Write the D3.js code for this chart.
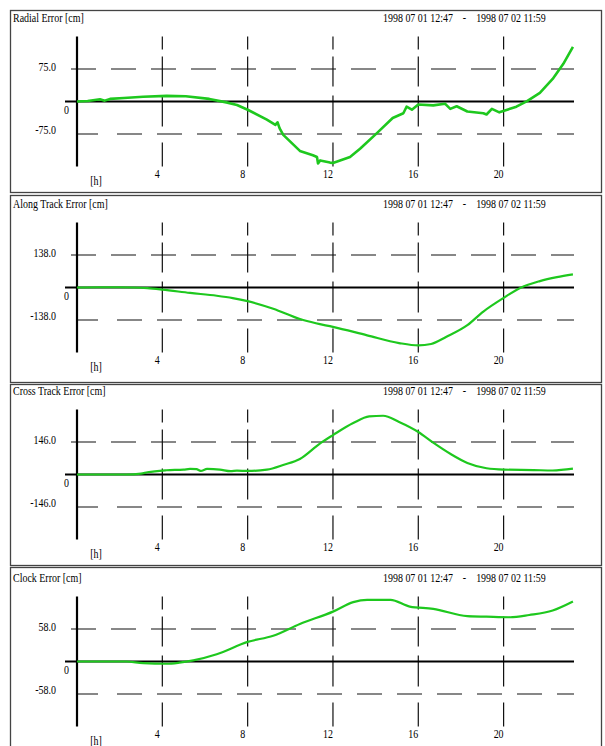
<!DOCTYPE html>
<html><head><meta charset="utf-8">
<script src="https://cdn.jsdelivr.net/npm/d3@7"></script>
<style>body{margin:0;background:#fff}svg{display:block}text{white-space:pre}</style>
</head><body>
<svg id="c" width="605" height="746"></svg>
<script>
// ---------- data ----------
const titles = ["Radial Error [cm]", "Along Track Error [cm]", "Cross Track Error [cm]", "Clock Error [cm]"];
const dateRange = "1998 07 01 12:47    -    1998 07 02 11:59";
const gridValues = [75.0, 138.0, 146.0, 58.0];
const hourTicks = [4, 8, 12, 16, 20];
const xUnit = "[h]";

const radialH = [0,0.5,1.08,1.3,1.55,2.2,3.1,4.2,5.1,6.2,7.0,7.5,8,8.9,9.3,9.4,9.5,9.67,10.45,11.06,11.25,11.3,11.4,11.86,12.0,12.8,13.27,14.06,14.8,15.3,15.45,15.7,16,16.7,17.25,17.5,17.8,18.3,19.05,19.2,19.45,19.8,20.6,21.1,21.7,22.3,22.8,23.25];
const radialV = [0,1,5,2,6,8,11,13,12,6,-2,-8,-19,-42,-54,-48,-62,-77,-114,-124,-128,-143,-136,-141,-142,-128,-109,-73,-38,-27,-12,-19,-7,-9,-5,-17,-11,-23,-27,-30,-17,-25,-12,1,20,52,87,126];

const alongH = [0,1,2,2.6,3.3,4,5.3,6.55,7.3,8,9.2,10.45,11.2,12,13.6,15.1,16,16.6,17.3,18.3,19.05,20,20.8,21.7,22.5,23.25];
const alongV = [0,1,1,0,-3,-9,-23,-35,-45,-58,-90,-134,-152,-167,-203,-236,-246,-240,-210,-160,-102,-44,-1,27,44,56];

const crossH = [0,2.3,3.0,3.3,4.2,5.0,5.3,5.6,5.8,6.1,6.7,7.2,7.5,8,8.9,9.7,10.45,11.4,12,12.95,13.7,14.35,15.1,16,16.7,17.5,18.3,19.2,20,21.4,22.3,23.25];
const crossV = [0,0,4,10,19,22,25,24,16,25,22,15,17,16,22,44,70,140,177,231,261,264,236,191,143,93,52,28,22,20,18,26];

const clockH = [0,2.3,3.1,4.2,4.8,5.45,6.55,8,9.2,10.45,12,12.95,13.6,14.7,15.6,16.7,18.3,19.2,20.3,21.2,22.3,23.25];
const clockV = [0,0,-3,-4,-2,2,13,35,46,67,89,106,110,110,98,94,81,80,79,83,91,107];

const seriesH = [radialH, alongH, crossH, clockH];
const seriesV = [radialV, alongV, crossV, clockV];

// ---------- layout ----------
const svg = d3.select("#c");
const FONT = "'Liberation Serif','Times New Roman',serif";
const SX = 0.83;
const panelDy = [0, 186, 373, 560];
const boxTop = [10, 195, 384, 567];
const boxBot = [192, 382, 565, 760];
const green = "#1ec81e";

const x = d3.scaleLinear().domain([0, 23.3]).range([77, 574]);

function txt(g, s, px, py, anchor) {
  return g.append("text").text(s)
    .attr("xml:space", "preserve")
    .attr("font-family", FONT).attr("font-size", 12).attr("fill", "#000")
    .attr("text-anchor", anchor || "start")
    .attr("transform", `translate(${px},${py}) scale(${SX},1)`);
}

for (let i = 0; i < 4; i++) {
  svg.append("rect").attr("x", 10.5).attr("y", boxTop[i] + 0.5)
    .attr("width", 591).attr("height", boxBot[i] - boxTop[i])
    .attr("fill", "none").attr("stroke", "#444").attr("stroke-width", 1.3);

  const g = svg.append("g").attr("transform", `translate(0,${panelDy[i]})`);
  const gv = gridValues[i];
  const y = d3.scaleLinear().domain([-2 * gv, 2 * gv]).range([166.5, 36.5]);

  txt(g, titles[i], 13, 22);
  txt(g, dateRange, 383, 22);

  // vertical dashed hour lines
  g.selectAll(".vg").data(hourTicks).enter().append("line")
    .attr("x1", d => x(d)).attr("x2", d => x(d))
    .attr("y1", y(2 * gv)).attr("y2", y(-2 * gv))
    .attr("stroke", "#111").attr("stroke-width", 1.2)
    .attr("stroke-dasharray", "13,7,30,9,31,16,24");

  // horizontal dashed grid
  g.append("line").attr("x1", 71).attr("x2", x(23.3))
    .attr("y1", y(gv)).attr("y2", y(gv))
    .attr("stroke", "#111").attr("stroke-width", 1.2).attr("stroke-dasharray", "25,15");
  g.append("line").attr("x1", 78).attr("x2", x(23.3))
    .attr("y1", y(-gv)).attr("y2", y(-gv))
    .attr("stroke", "#111").attr("stroke-width", 1.2).attr("stroke-dasharray", "20,19,25,15,25,15,25,15,25,15,25,15,25,15,25,15,25,15,25,15,25,15,25,15");

  // zero line and y axis
  g.append("line").attr("x1", 65).attr("x2", x(23.3))
    .attr("y1", y(0)).attr("y2", y(0)).attr("stroke", "#000").attr("stroke-width", 2.2);
  g.append("line").attr("x1", x(0)).attr("x2", x(0))
    .attr("y1", y(2 * gv)).attr("y2", y(-2 * gv)).attr("stroke", "#000").attr("stroke-width", 2.2);

  // labels
  txt(g, gv.toFixed(1), 56, y(gv) + 2, "end");
  txt(g, (-gv).toFixed(1), 56, y(-gv), "end");
  txt(g, "0", 64, y(0) + 12);
  g.selectAll(".xl").data(hourTicks).enter().append("g").each(function (d) {
    txt(d3.select(this), String(d), x(d) - 5, 178, "middle");
  });
  txt(g, xUnit, 96, 185, "middle");

  // data line
  const pts = seriesH[i].map((h, k) => [h, seriesV[i][k]]);
  const line = d3.line().x(d => x(d[0])).y(d => y(d[1]))
    .curve(i === 0 ? d3.curveLinear : d3.curveMonotoneX);
  g.append("path").datum(pts).attr("d", line)
    .attr("fill", "none").attr("stroke", green)
    .attr("stroke-width", i === 0 ? 2.6 : 2.2).attr("stroke-linejoin", "round");
}
</script>
</body></html>
